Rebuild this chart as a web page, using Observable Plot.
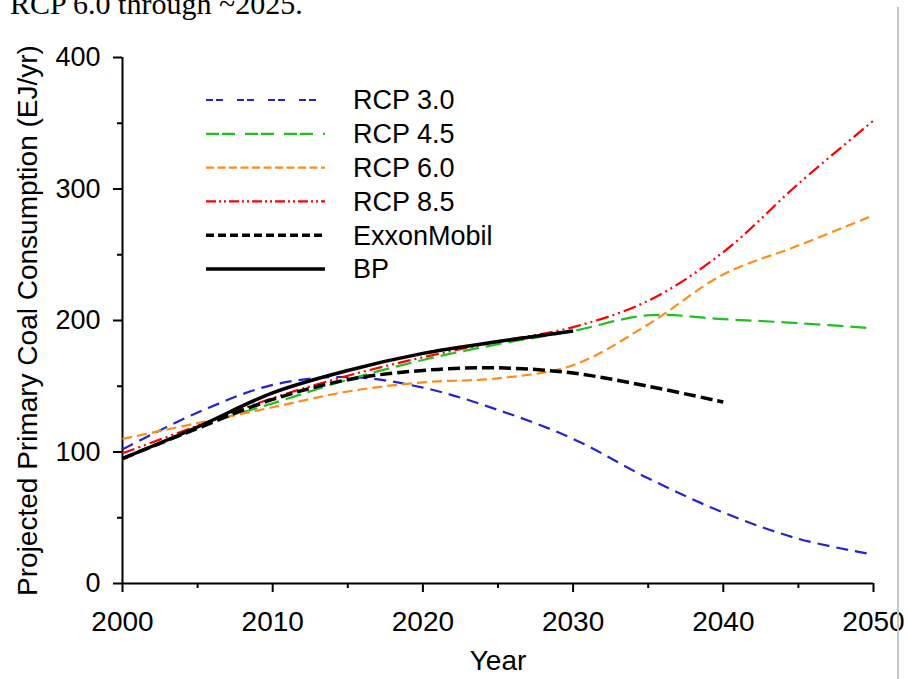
<!DOCTYPE html>
<html>
<head>
<meta charset="utf-8">
<script src="https://cdn.jsdelivr.net/npm/d3@7"></script>
<script src="https://cdn.jsdelivr.net/npm/@observablehq/plot@0.6"></script>
<style>
  html, body { margin: 0; padding: 0; background: #fff; }
  #page { position: relative; width: 908px; height: 679px; overflow: hidden; background: #fff; }
  #lead {
    position: absolute; left: 10px; top: -14px;
    font-family: "Liberation Serif", "Times New Roman", serif;
    font-size: 30px; line-height: 36px; color: #000; white-space: nowrap;
  }
  #chart { position: absolute; left: 0; top: 0; }
  #edge { position: absolute; left: 897px; top: 7px; width: 2px; bottom: 0; background: #c6c6c6; }
</style>
</head>
<body>
<div id="page">
  <div id="lead">RCP 6.0 through ~2025.</div>
  <div id="chart"></div>
  <div id="edge"></div>
</div>
<script>
// Projected primary coal consumption, EJ/yr, at five-year steps
const years = [2000, 2005, 2010, 2015, 2020, 2025, 2030, 2035, 2040, 2045, 2050];
const rcp30 = [102, 130, 151, 157, 149, 132, 110, 80, 54, 34, 22];
const rcp45 = [null, 120, 137, 155, 170, 182, 192, 204, 201, 198, 194];
const rcp60 = [110, 122, 134, 146, 153, 156, 166, 197, 235, 257, 280];
const rcp85 = [99, 120, 141, 158, 172, 184, 195, 215, 252, 304, 352];
const exxonMobil = [95, 118, 140, 155, 162, 164, 160, 150, 138, null, null];
const bp = [95, 119, 145, 162, 175, 184, 192, null, null, null, null];

const seriesNames = ["RCP 3.0", "RCP 4.5", "RCP 6.0", "RCP 8.5", "ExxonMobil", "BP"];
const seriesValues = [rcp30, rcp45, rcp60, rcp85, exxonMobil, bp];

// Axis ticks
const xTicks = [2000, 2010, 2020, 2030, 2040, 2050];
const xMinorTicks = [2005, 2015, 2025, 2035, 2045];
const yTicks = [0, 100, 200, 300, 400];
const yMinorTicks = [50, 150, 250, 350];

// Line styles per series (plot dash and legend-key dash)
const lineStyles = {
  "RCP 3.0":    {stroke: "#2424cc", width: 2.2, dash: "12,7",          keyDash: "7,3,7,14"},
  "RCP 4.5":    {stroke: "#1fc01f", width: 2.2, dash: "16,7",          keyDash: "13,3,13,10"},
  "RCP 6.0":    {stroke: "#ff8c1a", width: 2.2, dash: "10,5",          keyDash: "8,3.5"},
  "RCP 8.5":    {stroke: "#ff0000", width: 2.2, dash: "13,4,2,4,2,4",  keyDash: "10,3,2,3,2,3"},
  "ExxonMobil": {stroke: "#000000", width: 3.5, dash: "12,5",          keyDash: "8,4"},
  "BP":         {stroke: "#000000", width: 3.5, dash: null,            keyDash: null}
};

// Long-format rows built from the arrays above
const rows = seriesNames.flatMap((name, i) =>
  years.map((year, j) => ({name, year, value: seriesValues[i][j]}))
       .filter(d => d.value != null)
);

const seriesLines = seriesNames.map(name => {
  const s = lineStyles[name];
  return Plot.line(rows.filter(d => d.name === name), {
    x: "year",
    y: "value",
    stroke: s.stroke,
    strokeWidth: s.width,
    strokeDasharray: s.dash ?? undefined,
    strokeLinecap: "butt",
    curve: "catmull-rom"
  });
});

const chart = Plot.plot({
  width: 908,
  height: 679,
  marginLeft: 122,
  marginRight: 35,
  marginTop: 57,
  marginBottom: 96,
  x: {domain: [2000, 2050]},
  y: {domain: [0, 400]},
  style: {
    fontFamily: "'Liberation Sans', Arial, sans-serif",
    fontSize: "27px",
    color: "#000",
    background: "transparent",
    overflow: "visible"
  },
  marks: [
    Plot.ruleY([0], {strokeWidth: 2}),
    Plot.ruleX([2000], {strokeWidth: 2}),
    Plot.axisX({ticks: xTicks, tickSize: 9, tickPadding: 19, tickFormat: d => String(d),
                fontSize: 28, strokeWidth: 2, label: null}),
    Plot.axisX({ticks: xMinorTicks, tickSize: 5, tickFormat: () => "", strokeWidth: 2, label: null}),
    Plot.axisY({ticks: yTicks, tickSize: 9, tickPadding: 13, tickFormat: d => String(d),
                fontSize: 27, strokeWidth: 2, label: null}),
    Plot.axisY({ticks: yMinorTicks, tickSize: 5, tickFormat: () => "", strokeWidth: 2, label: null}),
    Plot.text(["Year"], {text: d => d, frameAnchor: "bottom", textAnchor: "middle",
                         lineAnchor: "middle", dy: 78, fontSize: 28}),
    Plot.text(["Projected Primary Coal Consumption (EJ/yr)"],
              {text: d => d, frameAnchor: "left", textAnchor: "middle", lineAnchor: "middle",
               dx: -94, rotate: -90, fontSize: 28}),
    ...seriesLines
  ]
});

document.getElementById("chart").append(chart);

// Legend inside the plot area, upper left
const key = {x0: 206, x1: 325, textX: 353, top: 100, step: 33.8};
const legend = d3.select(chart).append("g")
  .attr("font-family", "'Liberation Sans', Arial, sans-serif")
  .attr("font-size", 27)
  .attr("text-anchor", "start");

seriesNames.forEach((name, i) => {
  const s = lineStyles[name];
  const y = key.top + i * key.step;
  legend.append("line")
    .attr("x1", key.x0).attr("x2", key.x1)
    .attr("y1", y).attr("y2", y)
    .attr("stroke", s.stroke)
    .attr("stroke-width", s.width)
    .attr("stroke-dasharray", s.keyDash)
    .attr("stroke-linecap", "butt");
  legend.append("text")
    .attr("x", key.textX).attr("y", y)
    .attr("dy", "0.35em")
    .attr("fill", "#000")
    .text(name);
});
</script>
</body>
</html>
